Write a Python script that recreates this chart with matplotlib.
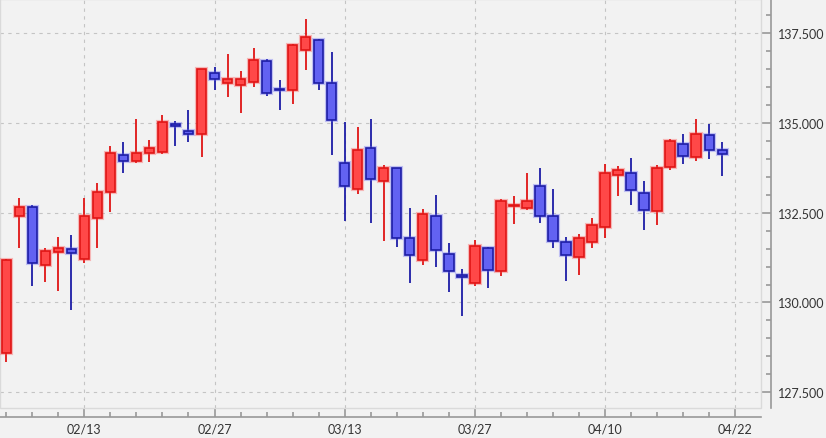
import numpy as np
import matplotlib
matplotlib.use("Agg")
import matplotlib.pyplot as plt
from matplotlib.ticker import MultipleLocator, FixedLocator, FuncFormatter
from matplotlib.patches import Rectangle

# daily OHLC, business days 02/03 .. 04/21
opens = [128.60, 132.41, 132.65, 131.03, 131.40, 131.50, 131.20, 132.34, 133.08, 134.11,
         133.95, 134.15, 134.20, 134.98, 134.78, 134.70, 136.38, 136.12, 136.06, 136.13,
         136.73, 135.94, 135.90, 137.02, 137.31, 136.11, 133.89, 133.17, 134.29, 133.37,
         133.73, 131.79, 131.17, 132.42, 131.35, 130.76, 130.53, 131.53, 130.87, 132.69,
         132.64, 133.23, 132.40, 131.69, 131.26, 131.68, 132.10, 133.56, 133.61, 133.05,
         132.54, 133.78, 134.40, 134.06, 134.65, 134.23]
highs = [131.20, 132.90, 132.71, 131.51, 131.81, 131.88, 132.90, 133.32, 134.36, 134.46,
         135.10, 134.52, 135.22, 135.04, 135.36, 136.51, 136.54, 136.91, 136.45, 137.08,
         136.77, 136.19, 137.19, 137.90, 137.33, 136.97, 135.01, 134.88, 135.10, 133.82,
         133.75, 132.63, 132.60, 132.99, 131.66, 130.93, 131.75, 131.54, 132.88, 132.95,
         133.59, 133.74, 133.16, 131.82, 131.90, 132.36, 133.86, 133.80, 134.03, 133.38,
         133.83, 134.54, 134.69, 135.12, 134.96, 134.48]
lows = [128.33, 131.51, 130.47, 130.58, 130.33, 129.80, 131.10, 131.51, 132.53, 133.59,
        133.89, 133.91, 134.13, 134.36, 134.48, 134.04, 135.91, 135.73, 135.26, 136.01,
        135.75, 135.36, 135.52, 136.47, 135.92, 134.10, 132.28, 133.02, 132.20, 131.70,
        131.54, 130.53, 131.03, 131.00, 130.30, 129.63, 130.47, 130.39, 130.75, 132.19,
        132.56, 132.20, 131.51, 130.61, 130.77, 131.51, 131.80, 132.96, 132.71, 132.01,
        132.16, 133.70, 133.85, 133.94, 134.00, 133.53]
closes = [131.17, 132.65, 131.09, 131.44, 131.52, 131.37, 132.40, 133.08, 134.15, 133.93,
          134.15, 134.29, 135.01, 134.90, 134.69, 136.49, 136.22, 136.22, 136.22, 136.75,
          135.82, 135.92, 137.16, 137.38, 136.11, 135.07, 133.23, 134.23, 133.43, 133.73,
          131.80, 131.32, 132.46, 131.45, 130.89, 130.72, 131.56, 130.91, 132.83, 132.70,
          132.82, 132.40, 131.70, 131.33, 131.79, 132.15, 133.59, 133.69, 133.13, 132.57,
          133.74, 134.49, 134.09, 134.69, 134.23, 134.13]

tick_pos = [6, 16, 26, 36, 46, 56]
tick_labels = ["02/13", "02/27", "03/13", "03/27", "04/10", "04/22"]

BG = "#f2f2f2"
UP_FILL, UP_EDGE = "#ff4848", "#e01515"
DN_FILL, DN_EDGE = "#6262f2", "#1d1da6"

o = np.array(opens)
h = np.array(highs)
l = np.array(lows)
c = np.array(closes)
x = np.arange(len(o))
up = c >= o

fig = plt.figure(figsize=(8.26, 4.39), dpi=100, facecolor=BG)
ax = fig.add_axes([0, 29.7 / 439, 761 / 826, 409.3 / 439])
ax.set_facecolor(BG)

ax.set_xlim(-0.48, 57.98)
ax.set_ylim(127.055, 138.446)

# gridlines
ax.grid(True, which="major", color="#c4c4c4", linestyle=(0, (3, 4)), linewidth=0.8)
ax.set_axisbelow(True)

# wicks
ax.vlines(x[up], l[up], h[up], color=UP_EDGE, linewidth=1.3, zorder=2)
ax.vlines(x[~up], l[~up], h[~up], color=DN_EDGE, linewidth=1.3, zorder=2)

# bodies
bottom = np.minimum(o, c)
height = np.maximum(np.abs(c - o), 0.015)
for mask, fill, edge in [(up, UP_FILL, UP_EDGE), (~up, DN_FILL, DN_EDGE)]:
    ax.bar(x[mask], height[mask], bottom=bottom[mask], width=0.72,
           color="none", edgecolor=fill, linewidth=3.0, alpha=0.35, zorder=3)
    ax.bar(x[mask], height[mask], bottom=bottom[mask], width=0.72,
           color=fill, edgecolor=edge, linewidth=1.2, zorder=4)

# frame of plot area
ax.add_patch(Rectangle((0, 0), 1, 1, transform=ax.transAxes, fill=False,
                       edgecolor="#dadada", linewidth=1.0, clip_on=False, zorder=1))

for side in ["left", "top"]:
    ax.spines[side].set_visible(False)
ax.spines["bottom"].set_position(("outward", 6.2))
ax.spines["right"].set_position(("outward", 7.0))
ax.spines["bottom"].set_color("#999999")
ax.spines["right"].set_color("#999999")
ax.spines["bottom"].set_linewidth(1.2)
ax.spines["right"].set_linewidth(1.2)

ax.yaxis.tick_right()
ax.yaxis.set_major_locator(MultipleLocator(2.5))
ax.yaxis.set_minor_locator(MultipleLocator(0.5))
ax.yaxis.set_major_formatter(FuncFormatter(lambda v, p: f"{v:.3f}"))
ax.xaxis.set_major_locator(FixedLocator(tick_pos))
ax.xaxis.set_minor_locator(MultipleLocator(2))
ax.set_xticklabels(tick_labels)

ax.tick_params(axis="y", which="major", direction="in", length=7, width=1.2,
               color="#999999", labelsize=9, labelcolor="#333333", pad=5)
ax.tick_params(axis="y", which="minor", direction="in", length=3.6, width=1.2, color="#999999")
ax.tick_params(axis="x", which="major", direction="in", length=6.5, width=1.2,
               color="#999999", labelsize=9, labelcolor="#333333", pad=4)
ax.tick_params(axis="x", which="minor", direction="in", length=3.6, width=1.2, color="#999999")
for lab in ax.get_xticklabels() + ax.get_yticklabels():
    lab.set_family(["Lato", "DejaVu Sans"])

fig.savefig("out.png", dpi=100, facecolor=BG)
